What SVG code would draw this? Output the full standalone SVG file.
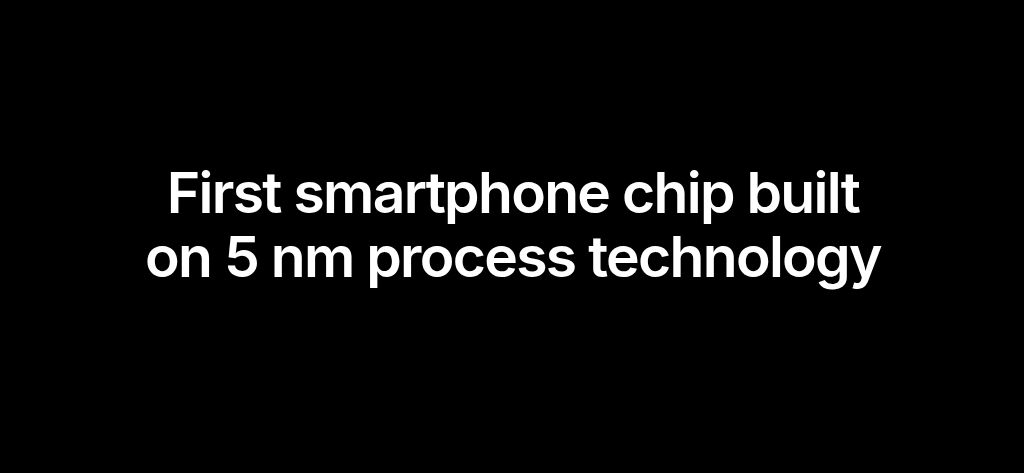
<svg xmlns="http://www.w3.org/2000/svg" width="1024" height="473" viewBox="0 0 1024 473">
<style>
.t{font-family:Inter,"Liberation Sans",sans-serif;font-weight:600;font-size:57px;fill:#ffffff;text-anchor:middle;letter-spacing:-1.7px}
</style>
<rect width="1024" height="473" fill="#000000"/>
<g id="title">
<text class="t" x="513" y="213">First smartphone chip built</text>
<text class="t" x="513" y="277">on 5 nm process technology</text>
</g>
</svg>
